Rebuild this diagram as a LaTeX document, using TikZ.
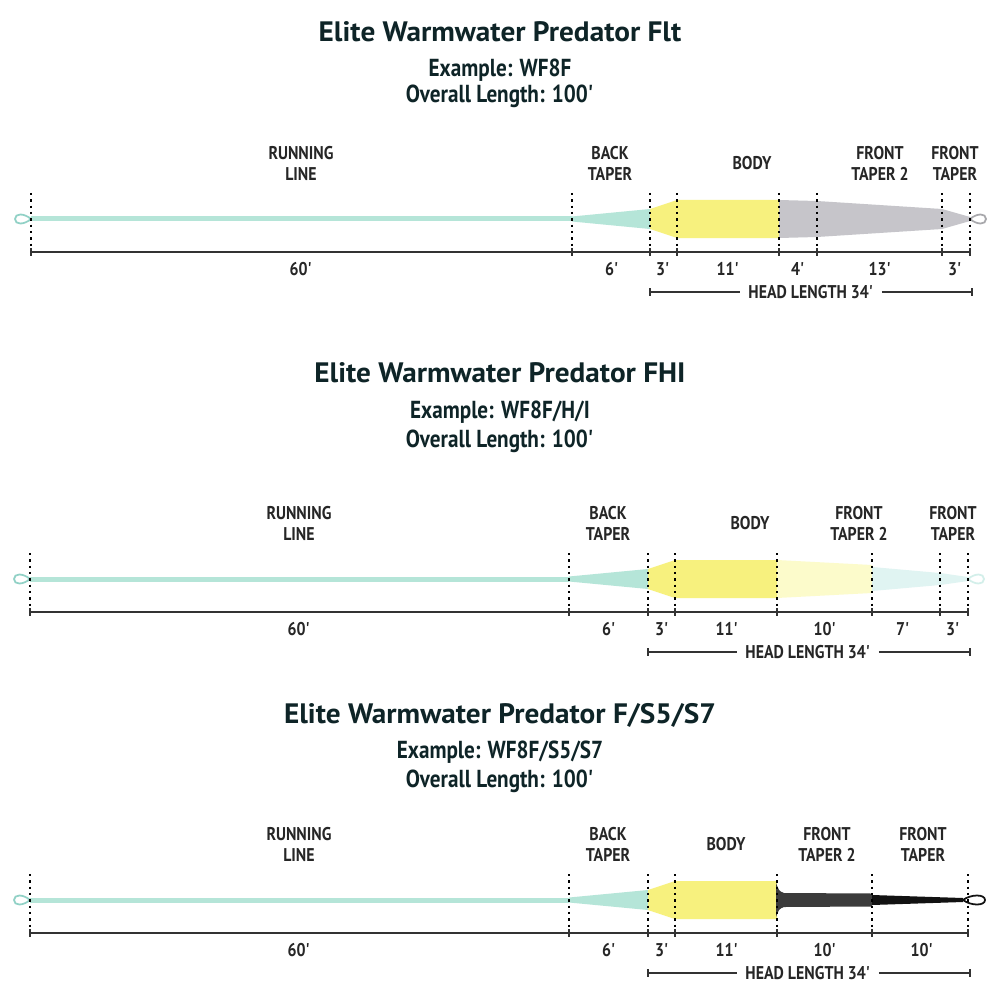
\documentclass[tikz,border=0pt]{standalone}
\usepackage{fontspec}
\setmainfont{PT Sans}[FakeStretch=0.86]
\newfontfamily\headfont{PT Sans}[FakeStretch=1.04]
\newcommand{\ft}{\textquotesingle}
\usepackage{tikz}

\definecolor{mint}{HTML}{B5E5D8}
\definecolor{lineyellow}{HTML}{F7F17E}
\definecolor{palegray}{HTML}{C6C5CA}
\definecolor{paleyellow}{HTML}{FCFBCB}
\definecolor{palemint}{HTML}{E0F4F2}
\definecolor{darkline}{HTML}{3B3B3B}
\definecolor{inkline}{HTML}{121212}
\definecolor{titleink}{HTML}{0E2427}

\begin{document}
\begin{tikzpicture}[x=0.02cm,y=-0.02cm,
  ttl/.style={font=\headfont\bfseries\fontsize{16}{18}\selectfont,text=titleink,anchor=base},
  subttl/.style={font=\bfseries\fontsize{14}{16}\selectfont,text=titleink,anchor=base},
  lbl/.style={font=\bfseries\fontsize{10.5}{11.9}\selectfont,text=black!85,align=center,anchor=south,inner sep=0pt},
  headlbl/.style={font=\bfseries\fontsize{10.5}{12}\selectfont,text=black!85,inner xsep=4.5pt,inner ysep=0pt},
  divline/.style={line width=1.4pt,dash pattern=on 1.4pt off 2.2pt},
  dimline/.style={line width=1.1pt,draw=black!80},
  headline/.style={line width=0.9pt,draw=black!80},
  loopline/.style={line width=1pt}]
\useasboundingbox[fill=white] (0,0) rectangle (1000,1000);

% titles
\node[ttl] (t1) at (500,42) {Elite Warmwater Predator Flt};
\node[subttl] (e1) at (500,77) {Example: WF8F};
\node[subttl] (o1) at (500,103) {Overall Length: 100\ft};
\node[ttl] (t2) at (500,382) {Elite Warmwater Predator FHI};
\node[subttl] (e2) at (500,418) {Example: WF8F/H/I};
\node[subttl] (o2) at (500,447) {Overall Length: 100\ft};
\node[ttl] (t3) at (500,723) {Elite Warmwater Predator F/S5/S7};
\node[subttl] (e3) at (500,758) {Example: WF8F/S5/S7};
\node[subttl] (o3) at (500,787) {Overall Length: 100\ft};

% floating line
\begin{scope}[shift={(0,219)}]
\fill[mint] (31,-2.5) rectangle (572,2.5);
\fill[mint] (572,-2.5) -- (650,-10) -- (650,10) -- (572,2.5) -- cycle;
\fill[lineyellow] (650,-10) -- (677,-19) -- (779,-19) -- (779,19) -- (677,19) -- (650,10) -- cycle;
\fill[palegray] (779,-19) -- (817,-18) -- (942,-10) -- (970,-2) -- (970,2) -- (942,10) -- (817,18) -- (779,19) -- cycle;
\draw[loopline,mint!80!teal] (31,0) .. controls (24,-6) and (15,-6) .. (15,0) .. controls (15,6) and (24,6) .. (31,0);
\draw[loopline,palegray!85!black] (970,0) .. controls (977,-6) and (986,-6) .. (986,0) .. controls (986,6) and (977,6) .. (970,0);
\foreach \x [count=\i] in {31,572,650,677,779,817,942,970}
  {\coordinate (a\i) at (\x,33);
   \draw[divline] (\x,-26) -- (a\i);
   \draw[dimline] (\x,29) -- (\x,37);}
\draw[dimline] (a1) -- (a8);
\node[lbl] (run1) at (301,-38) {RUNNING\\LINE};
\node[lbl] (back1) at (610,-38) {BACK\\TAPER};
\node[lbl] (body1) at (752,-49) {BODY};
\node[lbl] (fronttwo1) at (880,-38) {FRONT\\TAPER 2};
\node[lbl] (front1) at (955,-38) {FRONT\\TAPER};
\node[lbl] at (301,57) {60\ft};
\node[lbl] at (612,57) {6\ft};
\node[lbl] at (663,57) {3\ft};
\node[lbl] at (728,57) {11\ft};
\node[lbl] at (798,57) {4\ft};
\node[lbl] at (880,57) {13\ft};
\node[lbl] at (955,57) {3\ft};
\coordinate (ha1) at (650,73);
\coordinate (hb1) at (972,73);
\node[headlbl] (head1) at (811,73) {HEAD LENGTH 34\ft};
\draw[headline] (ha1) -- (head1);
\draw[headline] (head1) -- (hb1);
\draw[headline] (650,69) -- (650,77) (972,69) -- (972,77);
\end{scope}

% floating / hover / intermediate
\begin{scope}[shift={(0,579)}]
\fill[mint] (30,-2.5) rectangle (569,2.5);
\fill[mint] (569,-2.5) -- (648,-10) -- (648,10) -- (569,2.5) -- cycle;
\fill[lineyellow] (648,-10) -- (675,-19) -- (777,-19) -- (777,19) -- (675,19) -- (648,10) -- cycle;
\fill[paleyellow] (777,-19) -- (872,-14) -- (872,14) -- (777,19) -- cycle;
\fill[palemint] (872,-12) -- (940,-6) -- (968,-2) -- (968,2) -- (940,6) -- (872,12) -- cycle;
\draw[loopline,mint!80!teal] (30,0) .. controls (23,-6) and (14,-6) .. (14,0) .. controls (14,6) and (23,6) .. (30,0);
\draw[loopline,palemint!70!mint] (968,0) .. controls (975,-6) and (984,-6) .. (984,0) .. controls (984,6) and (975,6) .. (968,0);
\foreach \x [count=\i] in {30,569,648,675,777,872,940,968}
  {\coordinate (b\i) at (\x,33);
   \draw[divline] (\x,-26) -- (b\i);
   \draw[dimline] (\x,29) -- (\x,37);}
\draw[dimline] (b1) -- (b8);
\node[lbl] (run2) at (299,-38) {RUNNING\\LINE};
\node[lbl] (back2) at (608,-38) {BACK\\TAPER};
\node[lbl] (body2) at (750,-49) {BODY};
\node[lbl] (fronttwo2) at (859,-38) {FRONT\\TAPER 2};
\node[lbl] (front2) at (953,-38) {FRONT\\TAPER};
\node[lbl] at (299,57) {60\ft};
\node[lbl] at (609,57) {6\ft};
\node[lbl] at (662,57) {3\ft};
\node[lbl] at (727,57) {11\ft};
\node[lbl] at (825,57) {10\ft};
\node[lbl] at (903,57) {7\ft};
\node[lbl] at (953,57) {3\ft};
\coordinate (ha2) at (648,73);
\coordinate (hb2) at (970,73);
\node[headlbl] (head2) at (808,73) {HEAD LENGTH 34\ft};
\draw[headline] (ha2) -- (head2);
\draw[headline] (head2) -- (hb2);
\draw[headline] (648,69) -- (648,77) (970,69) -- (970,77);
\end{scope}

% floating / sink 5 / sink 7
\begin{scope}[shift={(0,900)}]
\fill[mint] (30,-2.5) rectangle (569,2.5);
\fill[mint] (569,-2.5) -- (648,-10) -- (648,10) -- (569,2.5) -- cycle;
\fill[lineyellow] (648,-10) -- (675,-19) -- (777,-19) -- (777,19) -- (675,19) -- (648,10) -- cycle;
\fill[darkline] (776,-17) .. controls (779,-9) .. (784,-7) -- (872,-6.5) -- (872,6.5) -- (784,7) .. controls (779,9) .. (776,17) -- cycle;
\fill[inkline] (872,-5) -- (963,-2) -- (963,2) -- (872,5) -- cycle;
\draw[loopline,mint!80!teal] (30,0) .. controls (23,-6) and (14,-6) .. (14,0) .. controls (14,6) and (23,6) .. (30,0);
\draw[loopline,inkline] (963,0) .. controls (971,-6) and (985,-6) .. (985,0) .. controls (985,6) and (971,6) .. (963,0);
\foreach \x [count=\i] in {30,569,648,675,777,872,968}
  {\coordinate (c\i) at (\x,33);
   \draw[divline] (\x,-26) -- (c\i);
   \draw[dimline] (\x,29) -- (\x,37);}
\draw[dimline] (c1) -- (c7);
\node[lbl] (run3) at (299,-38) {RUNNING\\LINE};
\node[lbl] (back3) at (608,-38) {BACK\\TAPER};
\node[lbl] (body3) at (726,-49) {BODY};
\node[lbl] (fronttwo3) at (827,-38) {FRONT\\TAPER 2};
\node[lbl] (front3) at (923,-38) {FRONT\\TAPER};
\node[lbl] at (299,57) {60\ft};
\node[lbl] at (609,57) {6\ft};
\node[lbl] at (662,57) {3\ft};
\node[lbl] at (727,57) {11\ft};
\node[lbl] at (825,57) {10\ft};
\node[lbl] at (922,57) {10\ft};
\coordinate (ha3) at (648,73);
\coordinate (hb3) at (970,73);
\node[headlbl] (head3) at (808,73) {HEAD LENGTH 34\ft};
\draw[headline] (ha3) -- (head3);
\draw[headline] (head3) -- (hb3);
\draw[headline] (648,69) -- (648,77) (970,69) -- (970,77);
\end{scope}
\end{tikzpicture}
\end{document}
